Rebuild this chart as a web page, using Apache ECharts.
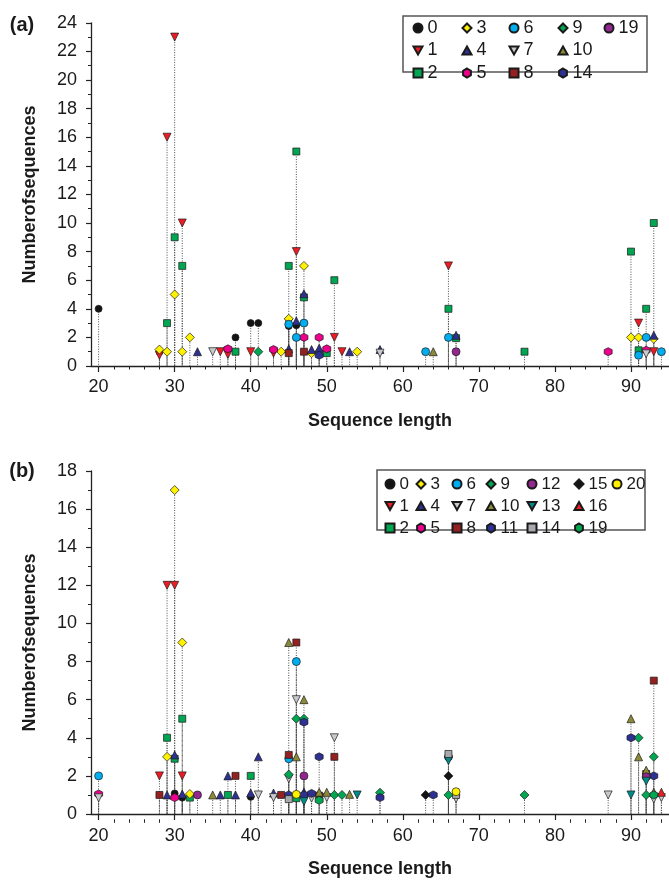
<!DOCTYPE html>
<html><head><meta charset="utf-8">
<script src="https://cdn.jsdelivr.net/npm/echarts@6/dist/echarts.min.js"></script>
<style>
html,body{margin:0;padding:0;background:#fff;width:669px;height:883px;overflow:hidden}
#a{position:absolute;left:0;top:0;width:669px;height:441px}
#b{position:absolute;left:0;top:441px;width:669px;height:442px}
</style></head><body><div id="a"></div><div id="b"></div>
<script>
// ---------- Panel (a): [sequence length, number of sequences] per class ----------
const aKeys = ['0','1','2','3','4','5','6','7','8','9','10','14','19'];
const a0  = [[20,4],[28,1],[38,2],[40,3],[41,3],[45,2.8],[46,2.85]];
const a1  = [[28,0.75],[29,16],[30,23],[31,10],[36,1],[37,0.8],[40,1],[43,0.9],[45,3.05],[46,8],[51,2],[52,1],[66,7],[91,3],[93,1]];
const a2  = [[29,3],[30,9],[31,7],[38,1],[45,7],[46,15],[47,4.8],[50,0.9],[51,6],[66,4],[67,1.95],[76,1],[90,8],[91,1.1],[92,4],[93,10]];
const a3  = [[28,1.15],[29,1],[30,5],[31,1],[32,2],[44,1],[45,3.3],[47,7],[48,0.9],[49,1],[54,1],[90,2],[91,2],[93,1.9]];
const a4  = [[33,1],[45,1.2],[46,3.15],[47,5.05],[48,1.15],[49,1.25],[53,1],[57,1.15],[67,2.15],[93,2.15]];
const a5  = [[37,1.2],[43,1.15],[47,2],[49,2],[50,1.2],[87,1],[92,1.1]];
const a6  = [[45,2.92],[46,2],[47,3],[63,1],[66,2],[91,0.75],[92,2],[94,1]];
const a7  = [[35,1],[57,0.9],[92,0.85]];
const a8  = [[45,0.9],[47,1]];
const a9  = [[41,1]];
const a10 = [[64,1]];
const a14 = [[49,0.75]];
const a19 = [[67,1]];
const aData = {'0':a0,'1':a1,'2':a2,'3':a3,'4':a4,'5':a5,'6':a6,'7':a7,'8':a8,'9':a9,'10':a10,'14':a14,'19':a19};

// ---------- Panel (b) ----------
const bKeys = ['0','1','2','3','4','5','6','7','8','9','10','11','12','13','14','15','16','19','20'];
const b0  = [[30,1.08],[31,0.86],[40,0.9]];
const b1  = [[28,2],[29,12],[30,12],[31,2]];
const b2  = [[29,4],[30,2.9],[31,5],[32,0.86],[37,1],[40,2],[46,0.83]];
const b3  = [[29,3],[30,17],[31,9],[32,1.05]];
const b4  = [[29,1],[30,3.1],[31,1.05],[36,1],[37,2],[38,1],[40,1.1],[41,3],[43,1.1],[47,1.15]];
const b5  = [[20,1.05],[30,0.86]];
const b6  = [[20,2],[45,2.9],[46,8]];
const b7  = [[20,0.85],[41,1],[43,0.86],[45,1.85],[46,6],[47,0.8],[48,0.83],[50,0.86],[51,4],[67,0.8],[87,1],[93,0.78],[94,0.86]];
const b8  = [[28,1],[38,2],[44,1],[45,3.1],[46,9],[49,0.96],[51,3],[92,2.1],[93,7]];
const b9  = [[45,2.07],[46,5],[47,5],[51,1],[52,1],[57,1.12],[66,1],[76,1],[91,4],[92,1],[93,3]];
const b10 = [[35,1],[45,9],[46,3],[47,6],[49,1.14],[50,1.14],[53,1.03],[90,5],[91,3],[92,2.3],[93,1.14]];
const b11 = [[45,1],[47,4.82],[47,1],[48,1.08],[49,3],[57,0.86],[64,1],[90,4],[93,2]];
const b12 = [[33,1],[47,2],[66,3],[92,1.95]];
const b13 = [[47,0.65],[54,1],[66,2.8],[90,1],[92,1.72]];
const b14 = [[45,0.78],[66,3.15],[67,1]];
const b15 = [[63,1],[66,2]];
const b16 = [[94,1.14]];
const b19 = [[49,0.72],[93,1]];
const b20 = [[46,1.03],[67,1.17]];
const bData = {'0':b0,'1':b1,'2':b2,'3':b3,'4':b4,'5':b5,'6':b6,'7':b7,'8':b8,'9':b9,'10':b10,'11':b11,'12':b12,'13':b13,'14':b14,'15':b15,'16':b16,'19':b19,'20':b20};

const xMajorTicks = [20,30,40,50,60,70,80,90];
const xMinorTicks = [22,24,26,28,32,34,36,38,42,44,46,48,52,54,56,58,62,64,66,68,72,74,76,78,82,84,86,88,92,94];

// ---------- styles ----------
const FONT = "'Liberation Sans', Arial, Helvetica, sans-serif";
const HEX = 'path://M0,-10L8.66,-5L8.66,5L0,10L-8.66,5L-8.66,-5Z';
const DOWN = 'path://M0,0L20,0L10,17.32Z';
const UP = 'path://M10,0L20,17.32L0,17.32Z';
const RED='#ed1c24', GREEN='#00a651', YEL='#fff200', NAVY='#2e3192', PINK='#ec008c', CYAN='#00aeef',
      LGRAY='#c8c9cb', BROWN='#94201f', OLIVE='#8c8a3a', PURPLE='#92278f', TEAL='#008b8b', GRAY='#a7a9ac', BLACK='#141414';
const styleA = {
  '0':['circle',BLACK,7],'1':[DOWN,RED,8],'2':['rect',GREEN,7],'3':['diamond',YEL,9],'4':[UP,NAVY,8],
  '5':[HEX,PINK,8],'6':['circle',CYAN,8],'7':[DOWN,LGRAY,8],'8':['rect',BROWN,7],'9':['diamond',GREEN,9],
  '10':[UP,OLIVE,8],'14':[HEX,NAVY,8],'19':['circle',PURPLE,8]
};
const styleB = {
  '0':['circle',BLACK,7],'1':[DOWN,RED,8],'2':['rect',GREEN,7],'3':['diamond',YEL,9],'4':[UP,NAVY,8],
  '5':[HEX,PINK,8],'6':['circle',CYAN,8],'7':[DOWN,LGRAY,8],'8':['rect',BROWN,7],'9':['diamond',GREEN,9],
  '10':[UP,OLIVE,8],'11':[HEX,NAVY,8],'12':['circle',PURPLE,8],'13':[DOWN,TEAL,8],'14':['rect',GRAY,7],
  '15':['diamond',BLACK,9],'16':[UP,RED,8],'19':[HEX,GREEN,8],'20':['circle',YEL,8]
};

function build(dom, p) {
  const chart = echarts.init(dom, null, {renderer:'canvas'});
  const all = [];
  const series = p.keys.map(k => {
    const st = p.style[k];
    p.data[k].forEach(pt => all.push(pt));
    return {type:'scatter', name:k, data:p.data[k], symbol:st[0], symbolSize:st[2],
      itemStyle:{color:st[1], borderColor:'#1a1a1a', borderWidth:0.7, opacity:1},
      z:3, animation:false, emphasis:{disabled:true}};
  });
  series.unshift({type:'custom', name:'drop', data:all, silent:true, z:1, animation:false,
    renderItem:(params, api) => {
      const t = api.coord([api.value(0), api.value(1)]);
      const b = api.coord([api.value(0), 0]);
      return {type:'line', shape:{x1:t[0], y1:t[1], x2:b[0], y2:b[1]},
        style:{stroke:'#3a3a3a', lineWidth:0.9, lineDash:[1,1.5]}};
    }});
  const lineStyle = {color:'#222', width:1.3};
  const txt = {fontSize:18, color:'#1a1a1a', fontFamily:FONT};
  const legends = p.cols.map((col, i) => ({
    orient:'vertical', left:p.colX[i] - 4.5, top:p.rowTop, padding:0,
    itemWidth:9, itemHeight:9, itemGap:p.rowGap, selectedMode:false, data:col,
    textStyle:{fontSize:p.legendFont, color:'#1a1a1a', fontFamily:FONT, lineHeight:14}
  }));
  chart.setOption({
    animation:false,
    grid:[{left:91, width:578, top:p.top, height:p.h}, {left:91, width:578, top:p.top, height:p.h}],
    xAxis:[
      {gridIndex:0, type:'value', min:19, max:95,
       axisLine:{show:true, onZero:false, lineStyle},
       axisTick:{show:true, customValues:xMajorTicks, length:6, lineStyle:{color:'#222', width:1.2}},
       axisLabel:Object.assign({customValues:xMajorTicks, margin:p.xMargin,
         formatter:v => (v % 10 === 0 ? String(v) : '')}, txt),
       splitLine:{show:false},
       name:'Sequence length', nameLocation:'middle', nameGap:p.xNameGap,
       nameTextStyle:{fontSize:18, fontWeight:'bold', color:'#1a1a1a', fontFamily:FONT}},
      {gridIndex:1, type:'value', min:19, max:95, axisLine:{show:false},
       axisTick:{show:true, customValues:xMinorTicks, length:3.5, lineStyle:{color:'#222', width:1}},
       axisLabel:{show:false}, splitLine:{show:false}}
    ],
    yAxis:[
      {gridIndex:0, type:'value', min:0, max:p.yMax, interval:2,
       axisLine:{show:true, onZero:false, lineStyle},
       axisTick:{show:true, length:5, lineStyle:{color:'#222', width:1.2}},
       minorTick:{show:true, splitNumber:2, length:3, lineStyle:{color:'#222', width:1}},
       axisLabel:Object.assign({margin:14}, txt),
       splitLine:{show:false}, minorSplitLine:{show:false},
       name:'Numberofsequences', nameLocation:'middle', nameGap:52, nameRotate:90,
       nameTextStyle:{fontSize:18, fontWeight:'bold', color:'#1a1a1a', fontFamily:FONT}},
      {gridIndex:1, type:'value', min:0, max:p.yMax, show:false}
    ],
    legend:legends,
    graphic:[
      {type:'rect', shape:p.box, style:{fill:'#fff', stroke:'#555', lineWidth:1.5}, z:-1, silent:true},
      {type:'text', x:22, y:p.labelY, z:10, style:{text:p.label, fontSize:20, fontWeight:'bold', fontFamily:FONT,
        fill:'#1a1a1a', align:'center', verticalAlign:'middle'}}
    ],
    series
  });
}

build(document.getElementById('a'), {
  keys:aKeys, data:aData, style:styleA, yMax:24, top:22.8, h:343.2, xMargin:12, xNameGap:46,
  cols:[['0','1','2'],['3','4','5'],['6','7','8'],['9','10','14'],['19']],
  colX:[417,466,513,562,608], rowTop:19, rowGap:4.5, legendFont:18,
  box:{x:403, y:16, width:244, height:56}, label:'(a)', labelY:25
});
build(document.getElementById('b'), {
  keys:bKeys, data:bData, style:styleB, yMax:18, top:30, h:348.3, xMargin:13, xNameGap:46,
  cols:[['0','1','2'],['3','4','5'],['6','7','8'],['9','10','11'],['12','13','14'],['15','16','19'],['20']],
  colX:[389,420,456,490,531,578,616], rowTop:34.5, rowGap:5, legendFont:17,
  box:{x:377, y:29, width:268, height:60}, label:'(b)', labelY:30
});
</script></body></html>
